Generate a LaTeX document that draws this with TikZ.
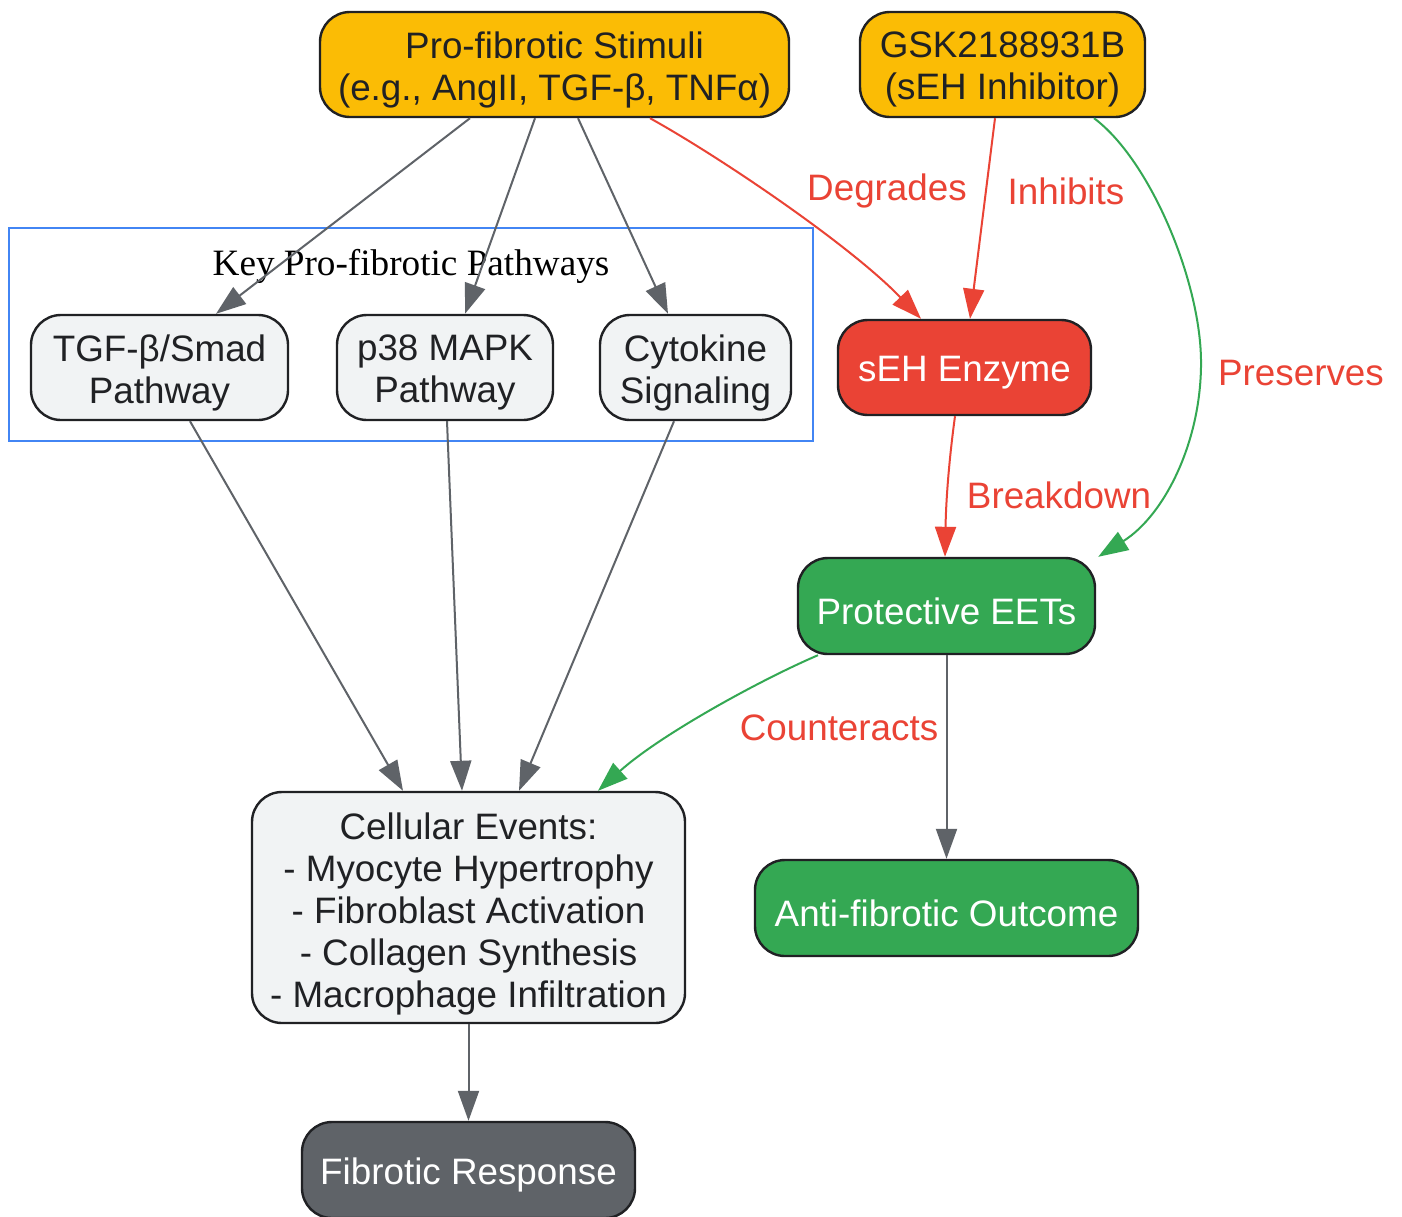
\documentclass[tikz,border=0pt]{standalone}
\usepackage{fontspec}
\setmainfont{Liberation Sans}
\newfontfamily\clusterfont{Liberation Serif}
\usetikzlibrary{arrows.meta,calc}
\definecolor{cyellow}{HTML}{FBBC05}
\definecolor{clight}{HTML}{F1F3F4}
\definecolor{cgray}{HTML}{5F6368}
\definecolor{cred}{HTML}{EA4335}
\definecolor{cgreen}{HTML}{34A853}
\definecolor{cblue}{HTML}{4285F4}
\definecolor{ctext}{HTML}{202124}
\begin{document}
\begin{tikzpicture}[x=0.5pt,y=-0.5pt,
  font=\fontsize{18.4}{21}\selectfont,
  box/.style={draw=ctext, line width=1.2pt, rounded corners=15pt, inner sep=0pt},
  sz/.style 2 args={minimum width=#1*0.5pt, minimum height=#2*0.5pt},
  yel/.style={box, fill=cyellow},
  lgt/.style={box, fill=clight},
  redn/.style={box, fill=cred},
  grn/.style={box, fill=cgreen},
  drk/.style={box, fill=cgray},
  txt/.style={align=center, inner sep=0pt, text=ctext},
  wtxt/.style={txt, text=white},
  edge/.style={line width=1pt, -{Triangle[length=15pt,width=10.5pt]}},
  ge/.style={edge, draw=cgray},
  re/.style={edge, draw=cred},
  gre/.style={edge, draw=cgreen},
  lab/.style={text=cred, inner sep=0pt}
]
\useasboundingbox (0,0) rectangle (1402,1216);
\fill[white] (0,0) rectangle (1402,1216);

% cluster
\draw[cblue, line width=1pt] (9,228) rectangle (813,441);
\node[inner sep=0pt, font=\clusterfont\fontsize{18.6}{21}\selectfont] (clab) at (411,266) {Key Pro-fibrotic Pathways};

% nodes (boxes)
\node[yel, sz={469}{105}] (stim) at (554.5,64.5) {};
\node[yel, sz={285}{105}] (gsk) at (1002.5,64.5) {};
\node[lgt, sz={257}{105}] (tgf) at (159.5,367.5) {};
\node[lgt, sz={216}{105}] (p38) at (445,367.5) {};
\node[lgt, sz={191}{105}] (cyto) at (695.5,367.5) {};
\node[redn, sz={253}{95}] (seh) at (964.5,367.5) {};
\node[grn, sz={297}{96}] (eets) at (946.5,606) {};
\node[lgt, sz={433}{231}] (cell) at (468.5,907.5) {};
\node[grn, sz={383}{96}] (anti) at (946.5,908) {};
\node[drk, sz={333}{96}] (fib) at (468.5,1170) {};

% node texts
\node[txt] (stimT) at ([yshift=-2.5pt]stim.center) {Pro-fibrotic Stimuli\\(e.g., AngII, TGF-β, TNFα)};
\node[txt] (gskT) at ([yshift=-2.5pt]gsk.center) {GSK2188931B\\(sEH Inhibitor)};
\node[txt] (tgfT) at ([yshift=-2.5pt]tgf.center) {TGF-β/Smad\\Pathway};
\node[txt] (p38T) at ([yshift=-2.5pt]p38.center) {p38 MAPK\\Pathway};
\node[txt] (cytoT) at ([yshift=-2.5pt]cyto.center) {Cytokine\\Signaling};
\node[wtxt] (sehT) at ([yshift=-2.5pt]seh.center) {sEH Enzyme};
\node[wtxt] (eetsT) at ([yshift=-2.5pt]eets.center) {Protective EETs};
\node[txt] (cellT) at ([yshift=-3pt]cell.center) {Cellular Events:\\- Myocyte Hypertrophy\\- Fibroblast Activation\\- Collagen Synthesis\\- Macrophage Infiltration};
\node[wtxt] (antiT) at ([yshift=-2.5pt]anti.center) {Anti-fibrotic Outcome};
\node[wtxt] (fibT) at ([yshift=-2.5pt]fib.center) {Fibrotic Response};

% edges from stimuli
\draw[ge] ($(stim.south)+(-84.5,0)$) -- ($(tgf.north)+(56.5,0)$);
\draw[ge] ($(stim.south)+(-19.5,0)$) -- ($(p38.north)+(20,0)$);
\draw[ge] ($(stim.south)+(23.5,0)$) -- ($(cyto.north)+(-27.5,0)$);
\draw[re] ($(stim.south)+(95.5,0)$) .. controls (720,157) and (850,245) .. ($(seh.north)+(-43.5,0)$);
\node[lab] (ldeg) at (887,191) {Degrades};

% edges from GSK
\draw[re] ($(gsk.south)+(-7.5,0)$) -- ($(seh.north)+(5.5,0)$);
\node[lab] (linh) at (1066,191) {Inhibits};
\draw[gre] ($(gsk.south)+(91.5,0)$) .. controls (1150,160) and (1200,280) .. (1201,360) .. controls (1202,440) and (1165,515) .. ($(eets.north east)+(2,0)$);
\node[lab] (lpres) at (1301,373) {Preserves};

% sEH -> EETs
\draw[re] ($(seh.south)+(-9.5,0)$) .. controls (949,460) and (946,500) .. ($(eets.north)+(-1.5,0)$);
\node[lab] (lbrk) at (1059,495) {Breakdown};

% pathways -> cellular
\draw[ge] ($(tgf.south)+(30.5,0)$) -- ($(cell.north)+(-65.5,0)$);
\draw[ge] ($(p38.south)+(2,0)$) -- ($(cell.north)+(-6.5,0)$);
\draw[ge] ($(cyto.south)+(-21.5,0)$) -- ($(cell.north)+(50.5,0)$);

% EETs
\draw[gre] ($(eets.south)+(-128.5,0)$) .. controls (760,680) and (660,735) .. ($(cell.north)+(129.5,0)$);
\node[lab] (lcnt) at (839,728) {Counteracts};
\draw[ge] (eets.south) -- (anti.north);

% cellular -> fibrotic
\draw[ge] (cell.south) -- (fib.north);
\end{tikzpicture}
\end{document}
